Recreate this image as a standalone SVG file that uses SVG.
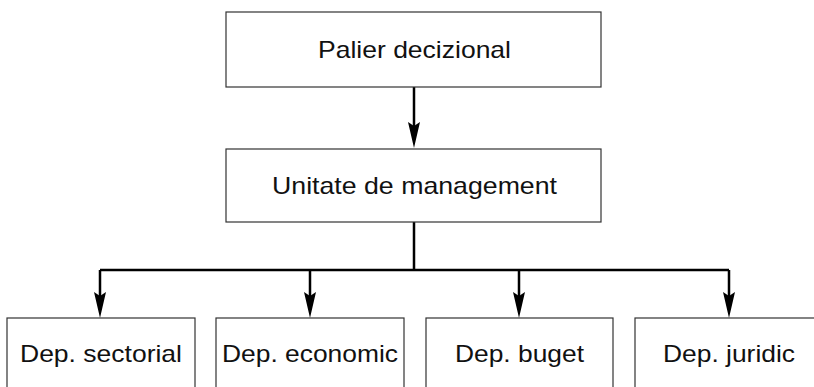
<svg xmlns="http://www.w3.org/2000/svg" width="814" height="387" viewBox="0 0 814 387">
<defs>
<style>
.box{fill:#fff;stroke:#333;stroke-width:1.2}
.lbl{font-family:"Liberation Sans",Arial,sans-serif;font-size:24px;fill:#111;text-anchor:middle}
.con{fill:none;stroke:#000;stroke-width:2.5}
.ah{fill:#000}
</style>
</defs>
<rect width="814" height="387" fill="#fff"/>
<g id="connectors">
<path class="con" d="M414,87 V128"/>
<path class="ah" d="M408,122 L414,126 L420,122 L414,148 Z"/>
<path class="con" d="M414,222 V270 M100,270 H729 M100,270 V297 M310,270 V297 M519,270 V297 M729,270 V297"/>
<path class="ah" d="M94,292 L100,296 L106,292 L100,318 Z"/>
<path class="ah" d="M304,292 L310,296 L316,292 L310,318 Z"/>
<path class="ah" d="M513,292 L519,296 L525,292 L519,318 Z"/>
<path class="ah" d="M723,292 L729,296 L735,292 L729,318 Z"/>
</g>
<g id="n1"><rect class="box" x="226" y="12" width="375" height="75"/><text class="lbl" x="414.5" y="57.5" textLength="193" lengthAdjust="spacingAndGlyphs">Palier decizional</text></g>
<g id="n2"><rect class="box" x="226" y="149" width="375" height="73"/><text class="lbl" x="414.5" y="194" textLength="285" lengthAdjust="spacingAndGlyphs">Unitate de management</text></g>
<g id="n3"><rect class="box" x="7" y="318" width="188" height="80"/><text class="lbl" x="101" y="362" textLength="162" lengthAdjust="spacingAndGlyphs">Dep. sectorial</text></g>
<g id="n4"><rect class="box" x="216" y="318" width="188" height="80"/><text class="lbl" x="310" y="362" textLength="176" lengthAdjust="spacingAndGlyphs">Dep. economic</text></g>
<g id="n5"><rect class="box" x="426" y="318" width="187" height="80"/><text class="lbl" x="519.5" y="362" textLength="129" lengthAdjust="spacingAndGlyphs">Dep. buget</text></g>
<g id="n6"><rect class="box" x="635" y="318" width="187" height="80"/><text class="lbl" x="729" y="362" textLength="132" lengthAdjust="spacingAndGlyphs">Dep. juridic</text></g>
</svg>
